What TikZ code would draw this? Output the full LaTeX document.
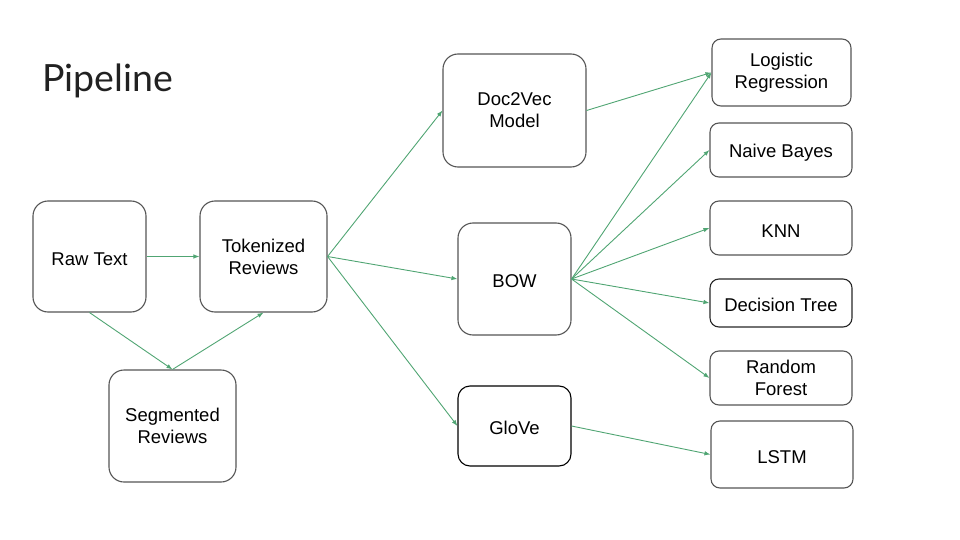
\documentclass[tikz,border=0pt]{standalone}
\usepackage{fontspec}
\setmainfont{Liberation Sans}
\newfontfamily\bodyfont{Liberation Sans}
\newfontfamily\titlefont{Lato}
\usetikzlibrary{arrows.meta}
\definecolor{arrowgreen}{RGB}{80,165,115}
\definecolor{boxline}{RGB}{85,85,85}
\definecolor{titlecol}{RGB}{33,33,33}
\begin{document}
\begin{tikzpicture}[x=1pt,y=-1pt,
  box/.style={draw=boxline, line width=1.1pt, rounded corners=15pt, align=center,
    inner sep=0pt, font=\bodyfont\fontsize{18.5}{22}\selectfont,
    execute at begin node={\rule{0pt}{18pt}}},
  sbox/.style={box, rounded corners=9pt},
  conn/.style={draw=arrowgreen, line width=0.9pt, -{Latex[length=6pt,width=4.5pt]}}
]
\useasboundingbox (0,0) rectangle (960,540);
\node[anchor=base west, font=\titlefont\fontsize{37.5}{42}\selectfont, text=titlecol, inner sep=0pt] (title) at (42,92) {Pipeline};

\node[box, minimum width=113pt, minimum height=111pt] (raw) at (89.5,256.5) {Raw Text};
\node[box, minimum width=127pt, minimum height=111pt] (tok) at (263.5,256.5) {Tokenized\\Reviews};
\node[box, minimum width=127pt, minimum height=112pt] (seg) at (172.5,426) {Segmented\\Reviews};

\node[box, minimum width=143pt, minimum height=113pt] (d2v) at (514.5,110.5) {Doc2Vec\\Model};
\node[box, minimum width=113pt, minimum height=112pt] (bow) at (514.5,279) {BOW};
\node[box, draw=black, minimum width=113pt, minimum height=80pt, rounded corners=12pt] (glove) at (514.5,426) {GloVe};

\node[sbox, minimum width=139pt, minimum height=67pt] (lr) at (781.5,72.5) {Logistic\\Regression};
\node[sbox, minimum width=142pt, minimum height=54pt] (nb) at (781,150) {Naive Bayes};
\node[sbox, minimum width=142pt, minimum height=54pt] (knn) at (781,228) {KNN};
\node[sbox, draw=black!85, minimum width=142pt, minimum height=48pt] (dt) at (781,303) {Decision Tree};
\node[sbox, minimum width=142pt, minimum height=54pt] (rf) at (781,378) {Random\\Forest};
\node[sbox, minimum width=142pt, minimum height=67pt] (lstm) at (782,454.5) {LSTM};

\draw[conn] (raw.east) -- (tok.west);
\draw[conn] (raw.south) -- (seg.north);
\draw[conn] (seg.north) -- (tok.south);
\draw[conn] (tok.east) -- (d2v.west);
\draw[conn] (tok.east) -- (bow.west);
\draw[conn] (tok.east) -- (glove.west);
\draw[conn] (d2v.east) -- (lr.west);
\draw[conn] (bow.east) -- (lr.west);
\draw[conn] (bow.east) -- (nb.west);
\draw[conn] (bow.east) -- (knn.west);
\draw[conn] (bow.east) -- (dt.west);
\draw[conn] (bow.east) -- (rf.west);
\draw[conn] (glove.east) -- (lstm.west);
\end{tikzpicture}
\end{document}
